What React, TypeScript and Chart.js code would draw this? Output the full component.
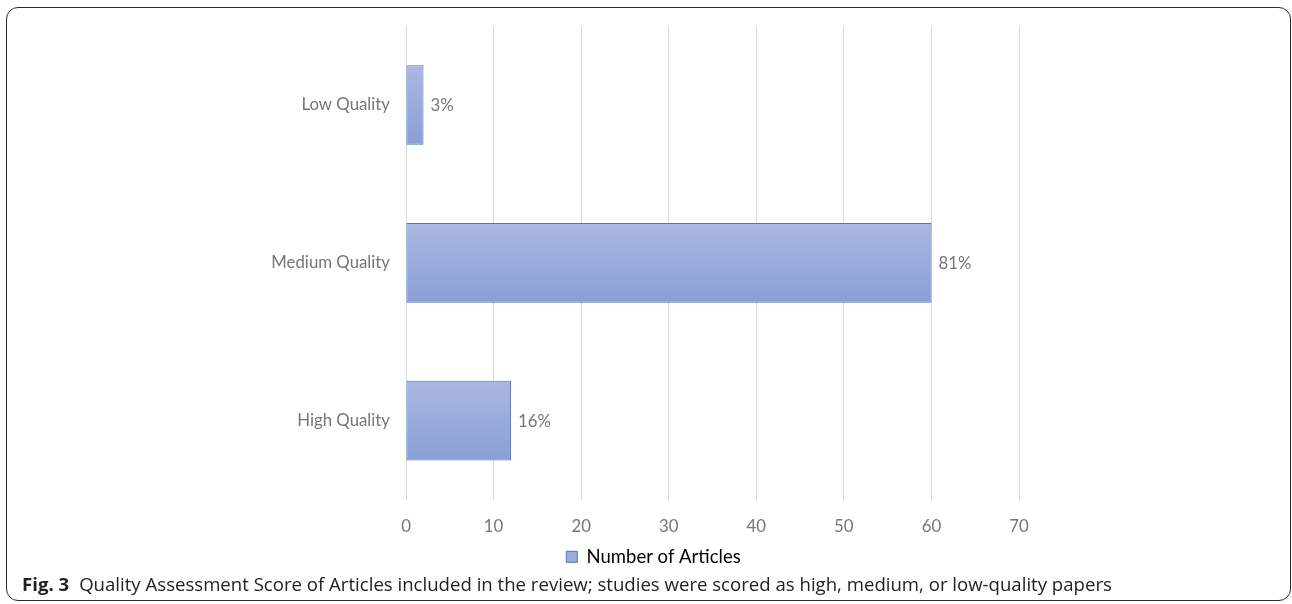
import React, { useEffect, useRef } from "react";
import { Chart, registerables } from "chart.js";

Chart.register(...registerables);

const categories = ["Low Quality", "Medium Quality", "High Quality"];
const articleCounts = [2, 60, 12];
const percentLabels = ["3%", "81%", "16%"];
const xTicks = [0, 10, 20, 30, 40, 50, 60, 70];
const seriesName = "Number of Articles";
const captionLead = "Fig. 3";
const captionText =
  "Quality Assessment Score of Articles included in the review; studies were scored as high, medium, or low-quality papers";

const FONT = "Lato, 'Open Sans', sans-serif";
const TEXT_GRAY = "#767676";
const LEGEND_SHIFT = 19;

export default function App() {
  const canvasRef = useRef<HTMLCanvasElement | null>(null);

  useEffect(() => {
    const canvas = canvasRef.current;
    if (!canvas) return;

    const valueLabels = {
      id: "valueLabels",
      afterDatasetsDraw(chart: any) {
        const ctx = chart.ctx;
        const meta = chart.getDatasetMeta(0);
        ctx.save();
        ctx.font = `16.8px ${FONT}`;
        ctx.fillStyle = TEXT_GRAY;
        ctx.textAlign = "left";
        ctx.textBaseline = "middle";
        meta.data.forEach((el: any, i: number) => {
          ctx.fillText(percentLabels[i], el.x + 7, el.y + 1);
        });
        ctx.restore();
      },
    };

    const legendShift = {
      id: "legendShift",
      afterLayout(chart: any) {
        const lg = chart.legend;
        if (lg) {
          lg.left += LEGEND_SHIFT;
          lg.right += LEGEND_SHIFT;
        }
      },
    };

    const chart = new Chart(canvas, {
      type: "bar",
      data: {
        labels: categories,
        datasets: [
          {
            label: seriesName,
            data: articleCounts,
            backgroundColor: (c: any) => {
              const ch = c.chart;
              const ys = ch.scales && ch.scales.y;
              if (c.type !== "data" || !ys || typeof c.dataIndex !== "number") return "#9aabdc";
              const yc = ys.getPixelForValue(c.dataIndex);
              const half = 40;
              const g = ch.ctx.createLinearGradient(0, yc - half, 0, yc + half);
              g.addColorStop(0, "#abb8e0");
              g.addColorStop(1, "#889fd8");
              return g;
            },
            borderColor: "#4a72c4",
            borderWidth: 1,
            borderSkipped: false,
            barPercentage: 0.505,
            categoryPercentage: 1,
          },
        ],
      },
      options: {
        indexAxis: "y",
        animation: false,
        responsive: false,
        maintainAspectRatio: false,
        layout: { padding: { top: 23, left: 250, right: 273, bottom: 0 } },
        scales: {
          x: {
            min: 0,
            max: 70,
            afterBuildTicks: (s: any) => {
              s.ticks = xTicks.map((v) => ({ value: v }));
            },
            afterFit: (s: any) => {
              s.height = 38;
            },
            border: { display: false },
            grid: { color: "#d9d9d9", drawTicks: false, lineWidth: 1 },
            ticks: {
              padding: 17,
              color: TEXT_GRAY,
              font: { family: FONT, size: 16.8 },
            },
          },
          y: {
            afterFit: (s: any) => {
              s.width = 156;
            },
            border: { display: false },
            grid: { display: false, drawTicks: false },
            ticks: {
              padding: 16,
              color: TEXT_GRAY,
              font: { family: FONT, size: 16.8 },
            },
          },
        },
        plugins: {
          legend: {
            position: "bottom",
            labels: {
              boxWidth: 11,
              boxHeight: 11,
              padding: 10,
              color: TEXT_GRAY,
              font: { family: FONT, size: 18.5 },
              generateLabels: () => [
                {
                  text: seriesName,
                  fillStyle: "#9aabdc",
                  strokeStyle: "#4a72c4",
                  lineWidth: 1,
                  hidden: false,
                  datasetIndex: 0,
                },
              ],
            },
          },
          tooltip: { enabled: false },
        },
      },
      plugins: [valueLabels, legendShift],
    } as any);

    return () => chart.destroy();
  }, []);

  return (
    <div style={{ position: "absolute", left: 0, top: 0, width: 1292, height: 604, background: "#fff" }}>
      <div
        style={{
          position: "absolute",
          left: 6,
          top: 7,
          width: 1285,
          height: 594,
          border: "1.5px solid #2a2a2a",
          borderRadius: 12,
          boxSizing: "border-box",
        }}
      />
      <canvas
        ref={canvasRef}
        width={1292}
        height={576}
        style={{ position: "absolute", left: 0, top: 0, width: 1292, height: 576 }}
      />
      <div
        style={{
          position: "absolute",
          left: 22,
          top: 572,
          fontFamily: "'Open Sans', sans-serif",
          fontSize: 18.6,
          color: "#222",
          whiteSpace: "nowrap",
          lineHeight: "24px",
        }}
      >
        <b>{captionLead}</b>
        <span style={{ marginLeft: 10 }}>{captionText}</span>
      </div>
    </div>
  );
}
